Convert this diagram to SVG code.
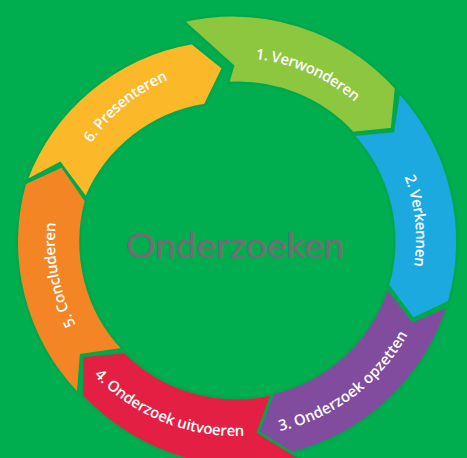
<svg xmlns="http://www.w3.org/2000/svg" xmlns:xlink="http://www.w3.org/1999/xlink" width="467" height="458" viewBox="0 0 467 458">
<style>
.seg{stroke:#00A84C;stroke-width:2.5;stroke-linejoin:miter}
.lbl{font-family:"Open Sans",Lato,"Liberation Sans",sans-serif;font-size:15px;font-weight:600;fill:#ffffff}
.title{font-family:Lato,"Liberation Sans",sans-serif;font-size:35px;fill:#6f6f72;stroke:#6f6f72;stroke-width:0.5}
</style>
<defs>
<path id="p1" d="M236,58 A182 182 0 1 1 236,422 A182 182 0 1 1 236,58"/>
<path id="p2" d="M236,60 A180 180 0 1 1 236,420 A180 180 0 1 1 236,60"/>
<path id="p5" d="M236,59 A181 181 0 1 1 236,421 A181 181 0 1 1 236,59"/>
<path id="p6" d="M236,66 A174 174 0 1 1 236,414 A174 174 0 1 1 236,66"/>
<path id="p34" d="M236,44 A196 196 0 1 0 236,436 A196 196 0 1 0 236,44"/>
</defs>
<rect x="0" y="0" width="467" height="458" fill="#00AD4F"/>
<g id="node1">
<path class="seg" fill="#8DC63F" d="M183,21 L233,66 L228,83 A156 156 0 0 1 353,133 L392,129 L396,88 A221 221 0 0 0 183,21 Z"/>
<text class="lbl"><textPath xlink:href="#p1" startOffset="6.5%" text-anchor="middle" textLength="110" lengthAdjust="spacing">1. Verwonderen</textPath></text>
</g>
<g id="node2">
<path class="seg" fill="#1BA9E0" d="M399,92 L393,131 L353,135 A157 157 0 0 1 388,285 L413,319 L449,302 A222 222 0 0 0 399,92 Z"/>
<text class="lbl"><textPath xlink:href="#p2" startOffset="23.3%" text-anchor="middle" textLength="91" lengthAdjust="spacing">2. Verkennen</textPath></text>
</g>
<g id="node3">
<path class="seg" fill="#824C9E" d="M448,306 L413,321 L387,288 A157 157 0 0 1 273,393 L258,432 L292,453 A221 221 0 0 0 448,306 Z"/>
<text class="lbl"><textPath xlink:href="#p34" startOffset="60.3%" text-anchor="middle" textLength="165" lengthAdjust="spacing">3. Onderzoek opzetten</textPath></text>
</g>
<g id="node4">
<path class="seg" fill="#E32043" d="M306,462 L258,432 L272,394 A157 157 0 0 1 125,352 L82,356 L82,396 A235 235 0 0 0 306,462 Z"/>
<text class="lbl"><textPath xlink:href="#p34" startOffset="43.9%" text-anchor="middle" textLength="167" lengthAdjust="spacing">4. Onderzoek uitvoeren</textPath></text>
</g>
<g id="node5">
<path class="seg" fill="#F38524" d="M78,394 L81,355 L123,349 A156 156 0 0 1 86,201 L62,166 L25,183 A219 219 0 0 0 78,394 Z"/>
<text class="lbl"><textPath xlink:href="#p5" startOffset="71.9%" text-anchor="middle" textLength="105" lengthAdjust="spacing">5. Concluderen</textPath></text>
</g>
<g id="node6">
<path class="seg" fill="#FBB829" d="M26,181 L60,163 L86,198 A155 155 0 0 1 205,105 L223,68 L192,43 A217 217 0 0 0 26,181 Z"/>
<text class="lbl"><textPath xlink:href="#p6" startOffset="89%" text-anchor="middle" textLength="101" lengthAdjust="spacing">6. Presenteren</textPath></text>
</g>
<g id="center">
<text class="title" x="235" y="258" text-anchor="middle" textLength="218" lengthAdjust="spacingAndGlyphs">Onderzoeken</text>
</g>
<g id="connectors"></g>
</svg>
